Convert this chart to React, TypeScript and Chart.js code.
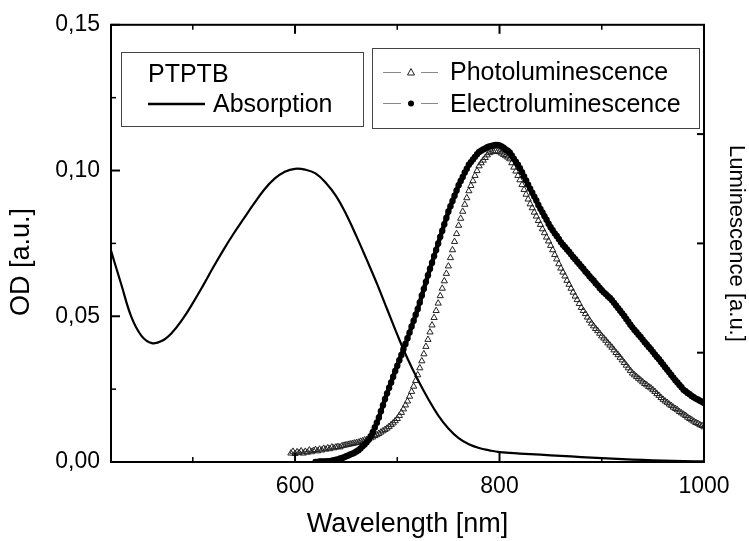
import React, { useEffect, useRef } from "react";
import { Chart, registerables } from "chart.js";

Chart.register(...registerables);

const FONT = "'Liberation Sans', Arial, Helvetica, sans-serif";

// ---- axis ticks / titles ----
const xMajorTicks = [600, 800, 1000];
const xMinorTicks = [500, 700, 900];
const yMajorTicks = [0, 0.05, 0.1, 0.15];
const yMinorTicks = [0.025, 0.075, 0.125];
const lumTicks = [0.25, 0.5, 0.75];
const xTitle = "Wavelength [nm]";
const yTitle = "OD [a.u.]";
const y2Title = "Luminescence [a.u.]";

// ---- legend labels ----
const legendLeftTitle = "PTPTB";
const legendAbs = "Absorption";
const legendPL = "Photoluminescence";
const legendEL = "Electroluminescence";

// ---- Absorption (OD) ----
const absWavelength = [
  420, 430, 440, 450, 460, 470, 480, 490, 500, 510, 520, 530, 540, 550, 560, 570, 580, 590,
  600, 610, 620, 630, 640, 650, 660, 670, 680, 690, 700, 710, 720, 730, 740, 750, 760, 770,
  780, 790, 800, 820, 840, 860, 880, 900, 920, 940, 960, 980, 1000,
];
const absOD = [
  0.0725, 0.061, 0.0497, 0.0432, 0.0408, 0.0416, 0.0445, 0.049, 0.0545, 0.0605, 0.0668, 0.0728,
  0.0784, 0.0836, 0.0887, 0.0935, 0.0972, 0.0996, 0.1006, 0.1003, 0.099, 0.0958, 0.0913, 0.085,
  0.0775, 0.0695, 0.0613, 0.0525, 0.0437, 0.0355, 0.0283, 0.0218, 0.016, 0.0115, 0.0082, 0.0061,
  0.0048, 0.004, 0.0034, 0.0029, 0.0025, 0.0021, 0.0017, 0.0013, 0.001, 0.0007, 0.0005, 0.0003,
  0.0002,
];

// ---- Photoluminescence (a.u.), sampled every 2 nm from 596 nm ----
const plStartNm = 596;
const plStepNm = 2;
const plValues = [
  0.020, 0.024, 0.019, 0.023, 0.021, 0.025, 0.020, 0.024, 0.022, 0.027, 0.023, 0.026, 0.028,
  0.025, 0.029, 0.027, 0.031, 0.029, 0.032, 0.030, 0.034, 0.032, 0.034, 0.035, 0.034, 0.037,
  0.038, 0.039, 0.040, 0.041, 0.042, 0.043, 0.044, 0.045, 0.047, 0.048, 0.050, 0.051, 0.053,
  0.055, 0.057, 0.060, 0.062, 0.065, 0.068, 0.071, 0.074, 0.077, 0.081, 0.085, 0.089, 0.094,
  0.099, 0.106, 0.113, 0.121, 0.130, 0.139, 0.150, 0.161, 0.173, 0.186, 0.199, 0.215, 0.231,
  0.247, 0.264, 0.280, 0.297, 0.313, 0.330, 0.346, 0.363, 0.380, 0.397, 0.414, 0.431, 0.448,
  0.467, 0.485, 0.504, 0.522, 0.541, 0.557, 0.573, 0.589, 0.604, 0.620, 0.632, 0.643, 0.655,
  0.666, 0.677, 0.684, 0.690, 0.696, 0.702, 0.707, 0.709, 0.710, 0.711, 0.710, 0.709, 0.706,
  0.703, 0.700, 0.697, 0.693, 0.684, 0.674, 0.665, 0.655, 0.645, 0.634, 0.623, 0.612, 0.601,
  0.590, 0.581, 0.571, 0.562, 0.552, 0.543, 0.533, 0.524, 0.514, 0.505, 0.495, 0.485, 0.474,
  0.464, 0.453, 0.443, 0.434, 0.425, 0.415, 0.406, 0.397, 0.388, 0.379, 0.371, 0.362, 0.353,
  0.346, 0.339, 0.331, 0.324, 0.317, 0.311, 0.305, 0.300, 0.294, 0.288, 0.283, 0.278, 0.272,
  0.267, 0.262, 0.256, 0.250, 0.245, 0.239, 0.233, 0.227, 0.221, 0.215, 0.209, 0.203, 0.199,
  0.195, 0.191, 0.187, 0.183, 0.179, 0.176, 0.172, 0.169, 0.165, 0.161, 0.156, 0.152, 0.147,
  0.143, 0.139, 0.136, 0.132, 0.129, 0.125, 0.122, 0.119, 0.115, 0.112, 0.109, 0.106, 0.102,
  0.099, 0.096, 0.093, 0.090, 0.088, 0.085, 0.083, 0.080,
];

// ---- Electroluminescence (a.u.), sampled every 2 nm from 620 nm ----
const elStartNm = 620;
const elStepNm = 2;
const elValues = [
  0.000, 0.000, 0.001, 0.001, 0.001, 0.001, 0.002, 0.002, 0.003, 0.004, 0.005, 0.006, 0.008,
  0.009, 0.011, 0.013, 0.015, 0.017, 0.019, 0.021, 0.024, 0.027, 0.031, 0.036, 0.040, 0.045,
  0.051, 0.059, 0.068, 0.079, 0.090, 0.102, 0.116, 0.130, 0.144, 0.157, 0.170, 0.182, 0.195,
  0.208, 0.220, 0.233, 0.245, 0.258, 0.270, 0.283, 0.296, 0.310, 0.323, 0.337, 0.350, 0.365,
  0.381, 0.396, 0.412, 0.427, 0.442, 0.456, 0.471, 0.485, 0.500, 0.515, 0.529, 0.544, 0.558,
  0.573, 0.585, 0.597, 0.609, 0.621, 0.633, 0.643, 0.652, 0.662, 0.671, 0.680, 0.686, 0.692,
  0.698, 0.704, 0.709, 0.712, 0.715, 0.717, 0.720, 0.722, 0.723, 0.724, 0.725, 0.725, 0.724,
  0.722, 0.719, 0.715, 0.712, 0.708, 0.701, 0.694, 0.687, 0.680, 0.672, 0.663, 0.653, 0.644,
  0.634, 0.625, 0.616, 0.607, 0.598, 0.588, 0.579, 0.571, 0.562, 0.554, 0.545, 0.537, 0.530,
  0.523, 0.517, 0.510, 0.503, 0.497, 0.492, 0.486, 0.481, 0.475, 0.469, 0.464, 0.458, 0.453,
  0.447, 0.442, 0.436, 0.431, 0.425, 0.420, 0.415, 0.409, 0.404, 0.398, 0.393, 0.388, 0.384,
  0.379, 0.375, 0.370, 0.364, 0.358, 0.352, 0.346, 0.340, 0.334, 0.327, 0.321, 0.314, 0.308,
  0.302, 0.297, 0.291, 0.286, 0.280, 0.274, 0.269, 0.263, 0.258, 0.252, 0.246, 0.240, 0.235,
  0.229, 0.223, 0.217, 0.211, 0.205, 0.199, 0.193, 0.187, 0.182, 0.176, 0.171, 0.165, 0.162,
  0.158, 0.155, 0.151, 0.148, 0.145, 0.143, 0.140, 0.138, 0.135,
];

const toPoints = (xs: number[], ys: number[]) => ys.map((y, i) => ({ x: xs[i], y }));
const sampled = (start: number, step: number, ys: number[]) =>
  ys.map((y, i) => ({ x: start + i * step, y }));

const framePlugin = {
  id: "frameAndLegend",
  afterDatasetsDraw(chart: any) {
    const { ctx, chartArea: a, scales } = chart;
    const sx = scales.x;
    const sy = scales.y;
    const sy2 = scales.y2;
    ctx.save();
    ctx.strokeStyle = "#000";
    ctx.lineCap = "butt";

    const line = (x1: number, y1: number, x2: number, y2: number, w: number) => {
      ctx.lineWidth = w;
      ctx.beginPath();
      ctx.moveTo(x1, y1);
      ctx.lineTo(x2, y2);
      ctx.stroke();
    };

    // ticks (inward)
    xMajorTicks.forEach((v) => {
      const p = sx.getPixelForValue(v);
      line(p, a.bottom, p, a.bottom - 9, 2);
      line(p, a.top, p, a.top + 9, 2);
    });
    xMinorTicks.forEach((v) => {
      const p = sx.getPixelForValue(v);
      line(p, a.bottom, p, a.bottom - 5, 1.5);
      line(p, a.top, p, a.top + 5, 1.5);
    });
    yMajorTicks.forEach((v) => {
      const p = sy.getPixelForValue(v);
      line(a.left, p, a.left + 9, p, 2);
    });
    yMinorTicks.forEach((v) => {
      const p = sy.getPixelForValue(v);
      line(a.left, p, a.left + 5, p, 1.5);
    });
    lumTicks.forEach((v) => {
      const p = sy2.getPixelForValue(v);
      line(a.right, p, a.right - 7, p, 2);
    });

    // frame
    ctx.lineWidth = 2;
    ctx.strokeRect(a.left, a.top, a.right - a.left, a.bottom - a.top);

    // left axis title
    ctx.save();
    ctx.translate(22, 262);
    ctx.rotate(-Math.PI / 2);
    ctx.font = `27px ${FONT}`;
    ctx.fillStyle = "#000";
    ctx.textAlign = "center";
    ctx.textBaseline = "middle";
    ctx.fillText(yTitle, 0, 0);
    ctx.restore();

    // ---- legends ----
    ctx.font = `25px ${FONT}`;
    ctx.textBaseline = "alphabetic";
    ctx.textAlign = "left";

    // left legend box
    ctx.fillStyle = "#fff";
    ctx.fillRect(121, 52, 242, 74);
    ctx.strokeStyle = "#444";
    ctx.lineWidth = 1;
    ctx.strokeRect(121.5, 52.5, 242, 74);
    ctx.fillStyle = "#000";
    ctx.fillText(legendLeftTitle, 148, 82);
    ctx.strokeStyle = "#000";
    line(148, 104, 205, 104, 2.5);
    ctx.fillText(legendAbs, 213, 112);

    // right legend box
    ctx.fillStyle = "#fff";
    ctx.fillRect(372, 48, 327, 80);
    ctx.strokeStyle = "#444";
    ctx.lineWidth = 1;
    ctx.strokeRect(372.5, 48.5, 327, 80);

    ctx.strokeStyle = "#888";
    line(383, 72.5, 401, 72.5, 1);
    line(421, 72.5, 438, 72.5, 1);
    line(383, 103.5, 401, 103.5, 1);
    line(421, 103.5, 438, 103.5, 1);
    // triangle marker
    ctx.strokeStyle = "#222";
    ctx.lineWidth = 1;
    ctx.beginPath();
    ctx.moveTo(411, 68.5);
    ctx.lineTo(414.5, 75);
    ctx.lineTo(407.5, 75);
    ctx.closePath();
    ctx.stroke();
    // circle marker
    ctx.fillStyle = "#000";
    ctx.beginPath();
    ctx.arc(411, 103.5, 3, 0, Math.PI * 2);
    ctx.fill();

    ctx.fillStyle = "#000";
    ctx.fillText(legendPL, 450, 80);
    ctx.fillText(legendEL, 450, 112);
    ctx.restore();
  },
};

export default function App() {
  const ref = useRef<HTMLCanvasElement | null>(null);

  useEffect(() => {
    if (!ref.current) return;
    const chart = new Chart(ref.current, {
      type: "scatter",
      data: {
        datasets: [
          {
            label: legendAbs,
            data: toPoints(absWavelength, absOD),
            yAxisID: "y",
            showLine: true,
            borderColor: "#000",
            borderWidth: 2.2,
            pointRadius: 0,
            tension: 0.4,
            order: 0,
          },
          {
            label: legendEL,
            data: sampled(elStartNm, elStepNm, elValues),
            yAxisID: "y2",
            showLine: true,
            borderColor: "#000",
            borderWidth: 4.5,
            pointStyle: "circle",
            pointRadius: 3.2,
            pointBackgroundColor: "#000",
            pointBorderColor: "#000",
            pointBorderWidth: 0,
            order: 1,
          },
          {
            label: legendPL,
            data: sampled(plStartNm, plStepNm, plValues),
            yAxisID: "y2",
            showLine: false,
            pointStyle: "triangle",
            pointRadius: 3.6,
            pointBackgroundColor: "rgba(255,255,255,0)",
            pointBorderColor: "#222",
            pointBorderWidth: 1,
            order: 2,
          },
        ],
      },
      options: {
        responsive: false,
        animation: false,
        devicePixelRatio: 1,
        events: [],
        layout: { padding: { top: 23, left: 0, right: 0, bottom: 0 } },
        plugins: {
          legend: { display: false },
          tooltip: { enabled: false },
        },
        scales: {
          x: {
            type: "linear",
            position: "bottom",
            min: 420,
            max: 1000,
            grid: { display: false, drawTicks: false },
            border: { display: false },
            afterBuildTicks: (s: any) => {
              s.ticks = xMajorTicks.map((v) => ({ value: v }));
            },
            afterFit: (s: any) => {
              s.height = 79;
            },
            ticks: {
              font: { family: FONT, size: 23 },
              color: "#000",
              padding: 11,
              maxRotation: 0,
              callback: (v: any) => String(v),
            },
            title: {
              display: true,
              text: xTitle,
              font: { family: FONT, size: 27 },
              color: "#000",
              padding: { top: 0, bottom: 0 },
            },
          },
          y: {
            type: "linear",
            position: "left",
            min: 0,
            max: 0.15,
            grid: { display: false, drawTicks: false },
            border: { display: false },
            afterBuildTicks: (s: any) => {
              s.ticks = yMajorTicks.map((v) => ({ value: v }));
            },
            afterFit: (s: any) => {
              s.width = 111;
            },
            ticks: {
              font: { family: FONT, size: 23 },
              color: "#000",
              padding: 11,
              callback: (v: any) => Number(v).toFixed(2).replace(".", ","),
            },
            title: { display: false },
          },
          y2: {
            type: "linear",
            position: "right",
            min: 0,
            max: 1,
            grid: { display: false, drawTicks: false },
            border: { display: false },
            afterFit: (s: any) => {
              s.width = 45;
            },
            ticks: { display: false },
            title: {
              display: true,
              text: y2Title,
              font: { family: FONT, size: 22 },
              color: "#000",
              padding: { top: 0, bottom: 0 },
            },
          },
        },
      } as any,
      plugins: [framePlugin],
    });
    return () => chart.destroy();
  }, []);

  return (
    <div style={{ position: "absolute", left: 0, top: 0, width: 749, height: 541, background: "#fff" }}>
      <canvas ref={ref} width={749} height={541} style={{ display: "block" }} />
    </div>
  );
}
